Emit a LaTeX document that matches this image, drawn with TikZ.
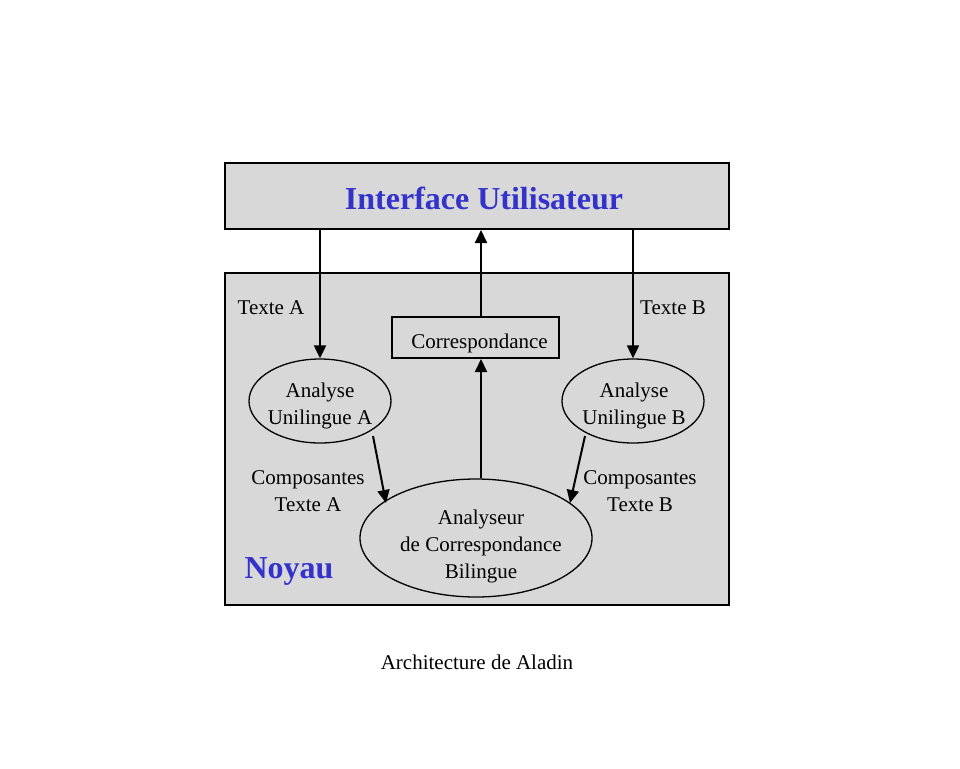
\documentclass[tikz,border=0pt]{standalone}
\usepackage{fontspec}
\setmainfont{Liberation Serif}
\usetikzlibrary{shapes.geometric,arrows.meta}
\definecolor{titleblue}{RGB}{51,51,204}
\definecolor{hatch}{RGB}{216,216,216}
\begin{document}
\begin{tikzpicture}[x=1pt,y=-1pt,
 box/.style={draw,line width=2pt,fill=hatch,inner sep=0},
 oval/.style={draw,ellipse,line width=1.3pt,fill=hatch,inner sep=0},
 txt/.style={font=\fontsize{21}{27}\selectfont,align=center,inner sep=0},
 head/.style={font=\bfseries\fontsize{32}{38}\selectfont,text=titleblue,inner sep=0},
 arr/.style={line width=2pt,-{Triangle[length=13pt,width=12pt]}}]
\useasboundingbox[fill=white] (0,0) rectangle (960,768);
% boxes
\node[box,minimum width=504pt,minimum height=66pt] (ui) at (477,196) {};
\node[head] (uitext) at (484,198) {Interface Utilisateur};
\node[box,minimum width=504pt,minimum height=332pt] (noyau) at (477,439) {};
\node[head] (noyautext) at (289,571) {Noyau};
\node[box,minimum width=167pt,minimum height=41pt] (corr) at (475.5,337.5) {};
\node[txt] (corrtext) at (479.5,343) {Correspondance};
% ellipses
\node[oval,minimum width=142pt,minimum height=84pt] (ea) at (320,401) {};
\node[txt] (eatext) at (320,406) {Analyse\\Unilingue A};
\node[oval,minimum width=142pt,minimum height=84pt] (eb) at (633,401) {};
\node[txt] (ebtext) at (634,406) {Analyse\\Unilingue B};
\node[oval,minimum width=232pt,minimum height=118pt] (big) at (476,538) {};
\node[txt] (bigtext) at (481,546) {Analyseur\\de Correspondance\\Bilingue};
% labels
\node[txt] (la) at (271,307.5) {Texte A};
\node[txt] (lb) at (673,307.5) {Texte B};
\node[txt] (ca) at (308,491.5) {Composantes\\Texte A};
\node[txt] (cb) at (640,491.5) {Composantes\\Texte B};
\node[txt] (caption) at (477,662.5) {Architecture de Aladin};
% connectors
\coordinate (cx) at (481,0);
\draw[arr] (ui.south -| ea.north) -- (ea.north);
\draw[arr] (ui.south -| eb.north) -- (eb.north);
\draw[arr] (cx |- corr.north) -- (cx |- ui.south);
\draw[arr] (cx |- big.north) -- (cx |- corr.south);
\coordinate (a1) at (373,436);
\coordinate (a2) at (386,503);
\coordinate (b1) at (585,436);
\coordinate (b2) at (570,503);
\draw[arr] (a1) -- (a2);
\draw[arr] (b1) -- (b2);
\end{tikzpicture}
\end{document}
